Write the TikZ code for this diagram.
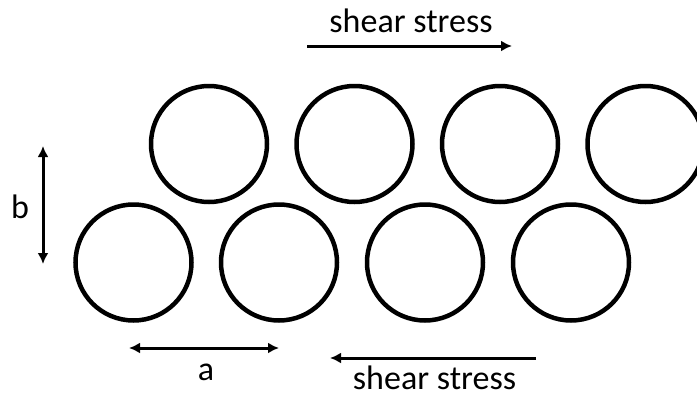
\documentclass[tikz,border=0pt]{standalone}
\usepackage{fontspec}
\setmainfont{Carlito}
\usetikzlibrary{arrows.meta}
\begin{document}
\begin{tikzpicture}[x=1pt,y=-1pt,
  ring/.style={circle,draw,line width=4.5pt,minimum size=116pt,inner sep=0pt},
  arr/.style={line width=3pt,-{Latex[length=11pt,width=11pt]}},
  darr/.style={line width=3pt,{Latex[length=11pt,width=11pt]}-{Latex[length=11pt,width=11pt]}},
  lbl/.style={font=\fontsize{34}{40}\selectfont,inner sep=0pt,anchor=base}]
  \useasboundingbox (0,0) rectangle (697,397);
  % upper row of fibres
  \node[ring] (t1) at (209,144) {};
  \node[ring] (t2) at (354.5,144) {};
  \node[ring] (t3) at (500,144) {};
  \node[ring] (t4) at (645.5,144) {};
  % lower row of fibres
  \node[ring] (b1) at (133.5,262.5) {};
  \node[ring] (b2) at (279,262.5) {};
  \node[ring] (b3) at (425,262.5) {};
  \node[ring] (b4) at (571,262.5) {};
  % shear stress on top
  \node[lbl] (sTop) at (411,32) {shear stress};
  \coordinate (sTopA) at (307,46);
  \coordinate (sTopB) at (512,46);
  \draw[arr] (sTopA) -- (sTopB);
  % shear stress on bottom
  \node[lbl] (sBot) at (434.5,389) {shear stress};
  \coordinate (sBotA) at (536,358);
  \coordinate (sBotB) at (330,358);
  \draw[arr] (sBotA) -- (sBotB);
  % spacing a
  \node[lbl] (la) at (206,380) {a};
  \coordinate (aL) at (129,348);
  \coordinate (aR) at (279,348);
  \draw[darr] (aL) -- (aR);
  % spacing b
  \node[lbl] (lb) at (20,218) {b};
  \coordinate (bT) at (43,146);
  \coordinate (bB) at (43,264);
  \draw[darr] (bT) -- (bB);
\end{tikzpicture}
\end{document}
